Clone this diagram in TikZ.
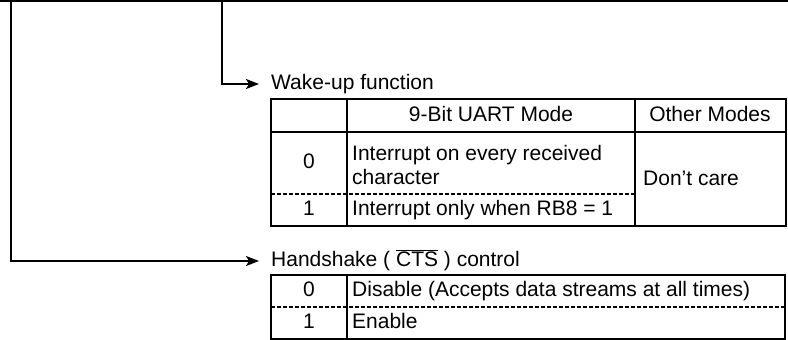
\documentclass[tikz,border=0pt]{standalone}
\usepackage{fontspec}
\setmainfont{Liberation Sans}
\usetikzlibrary{arrows.meta}

\begin{document}
\begin{tikzpicture}[x=1pt,y=-1pt,
    conn/.style={line width=1.6pt,-{Stealth[length=13pt,width=10pt,inset=3pt]},shorten >=12pt},
    grid/.style={line width=2.2pt},
    split/.style={line width=1.5pt,dash pattern=on 4pt off 2pt},
    txt/.style={inner sep=0pt,font=\fontsize{21}{24}\selectfont},
    cell/.style={txt,text height=15pt,text depth=4.5pt},
    lbl/.style={cell,anchor=west}]
    \useasboundingbox (0,0) rectangle (788,340);
    % register bits
    \coordinate (top) at (0,1);
    \coordinate (topend) at (788,1);
    \draw[line width=2.5pt] (top) -- (topend);
    \coordinate (bitH) at (11,0);
    \coordinate (bitW) at (222,0);
    % titles and connectors
    \node[lbl] (wake) at (271,84) {Wake-up function};
    \node[lbl] (hs) at (271,261) {Handshake ( $\overline{\mbox{CTS}}$ ) control};
    \draw[conn] (bitW) |- (wake.west);
    \draw[conn] (bitH) |- (hs.west);
    % wake-up table
    \draw[grid] (271,99) rectangle (786,226);
    \draw[grid] (271,132) -- (786,132);
    \foreach \x in {347,635}{
        \draw[grid] (\x,99) -- (\x,226);
    }
    \draw[split] (271,194) -- (635,194);
    \node[cell] (mode9) at (491,116) {9-Bit UART Mode};
    \node[cell] (modeo) at (710,116) {Other Modes};
    \node[cell] (w0) at (309,163) {0};
    \node[txt,anchor=west,align=left] (w0t) at (352,165) {Interrupt on every received\\character};
    \node[cell] (w1) at (309,210) {1};
    \node[lbl] (w1t) at (352,210) {Interrupt only when RB8 = 1};
    \node[lbl] (dc) at (643,180) {Don't care};
    % handshake table
    \draw[grid] (271,275) rectangle (785,339);
    \draw[grid] (347,275) -- (347,339);
    \draw[split] (271,307) -- (785,307);
    \node[cell] (h0) at (309,291) {0};
    \node[lbl] (h0t) at (352,291) {Disable (Accepts data streams at all times)};
    \node[cell] (h1) at (309,323) {1};
    \node[lbl] (h1t) at (352,323) {Enable};
\end{tikzpicture}
\end{document}
